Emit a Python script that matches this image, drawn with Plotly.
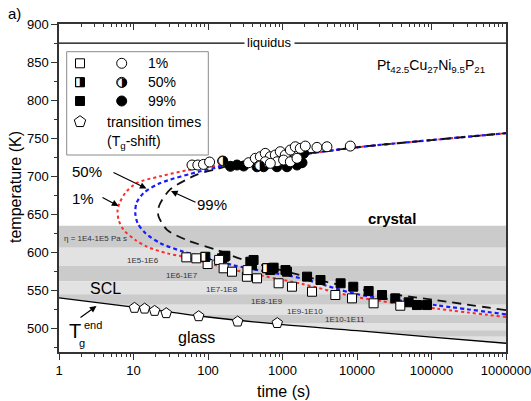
import plotly.graph_objects as go

FONT = "Arial, Liberation Sans, sans-serif"
SYM = "DejaVu Sans"

# ---------------- data ----------------
# TTT curves: time (s), temperature (K); lower branch -> nose -> upper branch
red_t = [1e6, 117500, 1e4, 1738, 219, 46.8, 28.2, 15.1, 10.6, 7.36, 6.31, 6.12, 6.5, 7.76, 11.0, 22.9, 52.2, 100, 200, 1000, 1e4, 1e5, 1e6]
red_T = [515, 526, 541, 559, 577, 594.2, 598.7, 607.4, 616.2, 629.5, 642.7, 655.9, 664.7, 678, 691.1, 699.9, 707.8, 712, 716, 725, 738, 747.5, 756.5]
blue_t = [1e6, 117500, 1e4, 1738, 219, 78.9, 46.8, 22.9, 14.5, 11.35, 10.57, 10.96, 13.7, 22.9, 78.9, 126, 200, 1000, 1e4, 1e5, 1e6]
blue_T = [518.5, 530.4, 545, 566, 583, 595, 600.8, 612, 625, 638.3, 651.5, 664.7, 678, 691, 706.5, 711, 715.5, 725, 738, 747.5, 756.5]
black_t = [1e6, 117500, 1e4, 1738, 302, 132, 52.2, 28.2, 21.7, 21.4, 22.9, 30.9, 70.8, 126, 200, 1000, 1e4, 1e5, 1e6]
black_T = [524, 537, 552, 570, 590, 603, 616, 629.5, 647, 656, 664.7, 682.3, 702, 709, 714, 725, 738, 747.5, 756.5]

# glass transition (Tg end) line
tg_t = [1, 10, 100, 1000, 1e4, 1e5, 1e6]
tg_T = [540, 528, 515, 505, 497, 488.5, 480.5]
# transition times (Tg-shift), pentagons
tr_t = [10.3, 14.1, 19.2, 27.5, 75, 250, 850]
tr_T = [527, 526, 523, 520, 516, 509, 507]

liquidus_T = 875

# crystallization onset on heating (circles) and cooling (squares)
c1_t = [61, 73, 87, 105, 351, 432, 504, 587, 686, 800, 933, 1089, 1274, 1486, 1734, 2023, 843, 1035, 1274, 1567, 587, 686, 2900, 3950, 8130]
c1_T = [714.7, 714.7, 715.5, 718.6, 717.7, 723.5, 725.6, 730, 725.6, 727.8, 732.2, 727.8, 734.4, 738.7, 736.6, 739.6, 719, 721.2, 719, 723.5, 719, 716.9, 737.9, 738.7, 739.6]
c50_t = [157, 490]
c50_T = [720, 714]
c99_t = [245, 301, 200, 455, 558, 843, 1148, 1567, 1828, 1923, 504]
c99_T = [714.7, 713.4, 713, 712.4, 712.4, 712.4, 712.4, 714.7, 717.7, 730, 716.9]

s1_t = [51.2, 69.7, 98.9, 141, 162, 210, 333, 339, 455, 887, 1340, 2489, 5117, 8570, 16710, 38110]
s1_T = [593.4, 592.1, 584.6, 590, 579, 574.5, 567.9, 576.6, 565.8, 559.3, 554.8, 548.2, 543.9, 539.5, 533, 529.8]
s50_t = [92, 620]
s50_T = [594.2, 579]
s99_t = [154, 165, 171, 370, 409, 389, 686, 760, 724, 1096, 1148, 2138, 3236, 6026, 8913, 14320, 21680, 32660, 49320, 63830, 87100]
s99_T = [592.1, 594.2, 595.5, 587.6, 589.9, 583, 576.7, 579.8, 579, 576.7, 574.5, 568, 563.6, 559.3, 554.8, 549.1, 543.9, 539.5, 534.3, 530.7, 530.7]

# viscosity bands (K)
band_edges = [635, 606, 582, 562, 545, 531, 518, 507, 497.5, 489, 481, 470]
band_labels = ["\u03b7 = 1E4-1E5 Pa s", "1E5-1E6", "1E6-1E7", "1E7-1E8", "1E8-1E9", "1E9-1E10", "1E10-1E11"]

x_ticks = [1, 10, 100, 1000, 10000, 100000, 1000000]
x_tick_text = ["1", "10", "100", "1000", "10000", "100000", "1000000"]
y_ticks = [500, 550, 600, 650, 700, 750, 800, 850, 900]

# ---------------- layout helpers ----------------
W, H = 531, 401
X0, X1, Y0, Y1 = 59, 506, 24, 352


def P(px, py):
    return (px - X0) / (X1 - X0), (Y1 - py) / (Y1 - Y0)


fig = go.Figure()
AX = "#333333"

# bands as shapes
dark, light = "#cbcbcb", "#e2e2e2"
shapes = []
for i in range(len(band_edges) - 1):
    shapes.append(dict(type="rect", xref="paper", yref="y", x0=0, x1=1,
                       y0=band_edges[i + 1], y1=band_edges[i],
                       fillcolor=dark if i % 2 == 0 else light,
                       line=dict(width=0), layer="below"))

# white glass region below Tg line
fig.add_trace(go.Scatter(x=tg_t, y=tg_T, mode="lines", line=dict(color="black", width=1.3, shape="spline"),
                         fill="tozeroy", fillcolor="white", hoverinfo="skip"))
# liquidus
fig.add_trace(go.Scatter(x=[1, 1e6], y=[liquidus_T, liquidus_T], mode="lines",
                         line=dict(color="black", width=1.2)))

# TTT curves
fig.add_trace(go.Scatter(x=red_t, y=red_T, mode="lines",
                         line=dict(color="#ff2a2a", width=2, dash="dot", shape="spline", smoothing=0.8)))
fig.add_trace(go.Scatter(x=blue_t, y=blue_T, mode="lines",
                         line=dict(color="#1a1aff", width=2.2, dash="4px,3px", shape="spline", smoothing=0.8)))
fig.add_trace(go.Scatter(x=black_t, y=black_T, mode="lines",
                         line=dict(color="#111111", width=1.8, dash="9px,6px", shape="spline", smoothing=0.8)))

mk_line = dict(color="black", width=1)
# filled 99%
fig.add_trace(go.Scatter(x=c99_t, y=c99_T, mode="markers",
                         marker=dict(symbol="circle", size=10, color="black", line=mk_line)))
fig.add_trace(go.Scatter(x=s99_t, y=s99_T, mode="markers",
                         marker=dict(symbol="square", size=9, color="black", line=mk_line)))
# open 1%
fig.add_trace(go.Scatter(x=c1_t, y=c1_T, mode="markers",
                         marker=dict(symbol="circle", size=10, color="white", line=mk_line)))
fig.add_trace(go.Scatter(x=s1_t, y=s1_T, mode="markers",
                         marker=dict(symbol="square", size=9, color="white", line=mk_line)))
# half 50%
fig.add_trace(go.Scatter(x=c50_t, y=c50_T, mode="markers+text", text=["\u25d1"] * len(c50_t),
                         textposition="middle center",
                         textfont=dict(family=SYM, size=13, color="black"),
                         marker=dict(symbol="circle", size=10, color="white", line=mk_line)))
fig.add_trace(go.Scatter(x=s50_t, y=s50_T, mode="markers+text", text=["\u25e8"] * len(s50_t),
                         textposition="middle center",
                         textfont=dict(family=SYM, size=12, color="black"),
                         marker=dict(symbol="square", size=9, color="white", line=mk_line)))
# transition pentagons
fig.add_trace(go.Scatter(x=tr_t, y=tr_T, mode="markers",
                         marker=dict(symbol="pentagon", size=11, color="white", line=mk_line)))

# dummy trace for top axis
fig.add_trace(go.Scatter(x=[1, 1e6], y=[469, 469], xaxis="x2", mode="lines",
                         line=dict(width=0), hoverinfo="skip"))

# ---------- legend (drawn inside plot on overlay axes) ----------
lg_rows = [63.3, 82.3, 101, 121.7]
lx_sq, lx_ci = 80, 121.7
for (px, py, sym, col, sz) in [
    (lx_sq, lg_rows[0], "square", "white", 9),
    (lx_ci, lg_rows[0], "circle", "white", 10),
    (lx_sq, lg_rows[1], "square", "white", 9),
    (lx_ci, lg_rows[1], "circle", "white", 10),
    (lx_sq, lg_rows[2], "square", "black", 9),
    (lx_ci, lg_rows[2], "circle", "black", 10),
    (lx_sq, lg_rows[3], "pentagon", "white", 12),
]:
    x, y = P(px, py)
    fig.add_trace(go.Scatter(x=[x], y=[y], xaxis="x3", yaxis="y3", mode="markers",
                             marker=dict(symbol=sym, size=sz, color=col, line=mk_line)))
for (px, py, glyph, sz) in [(lx_sq, lg_rows[1], "\u25e8", 12), (lx_ci, lg_rows[1], "\u25d1", 13)]:
    x, y = P(px, py)
    fig.add_trace(go.Scatter(x=[x], y=[y], xaxis="x3", yaxis="y3", mode="text", text=[glyph],
                             textposition="middle center",
                             textfont=dict(family=SYM, size=sz, color="black")))

x0, y0 = P(66.7, 51.7)
x1, y1 = P(208.3, 155)
shapes.append(dict(type="rect", xref="paper", yref="paper", x0=x0, x1=x1, y0=y1, y1=y0,
                   line=dict(color="#8a8a8a", width=1), fillcolor="rgba(0,0,0,0)", layer="above"))

annotations = []


def ann(px, py, text, size=14, xanchor="center", color="black", **kw):
    x, y = P(px, py)
    d = dict(x=x, y=y, xref="paper", yref="paper", text=text, showarrow=False,
             xanchor=xanchor, yanchor="middle", font=dict(family=FONT, size=size, color=color))
    d.update(kw)
    annotations.append(d)


def arrow(tail, head):
    x, y = P(*head)
    annotations.append(dict(x=x, y=y, xref="paper", yref="paper", text="", showarrow=True,
                            ax=tail[0] - head[0], ay=tail[1] - head[1], arrowhead=2,
                            arrowsize=1.1, arrowwidth=1.2, arrowcolor="black"))


ann(146, lg_rows[0], "1%", 14, "left")
ann(146, lg_rows[1], "50%", 14, "left")
ann(146, lg_rows[2], "99%", 14, "left")
ann(105, lg_rows[3], "transition times", 14, "left")
ann(105, 141.7, "(T<sub>g</sub>-shift)", 14, "left")

ann(269, 42.7, "liquidus", 13, bgcolor="white", borderpad=2)
ann(375, 66, "Pt<sub>42.5</sub>Cu<sub>27</sub>Ni<sub>9.5</sub>P<sub>21</sub>", 14, "left")
ann(392, 218, "<b>crystal</b>", 15)
ann(105, 288, "SCL", 16)
ann(196, 337.5, "glass", 16)
ann(75, 331, "T", 20)
ann(82, 343, "g", 11)
ann(93, 325, "end", 11)
ann(87, 171.5, "50%", 15)
ann(83, 198.5, "1%", 15)
ann(212, 205, "99%", 15)
ann(14, 14, "a)", 15)

# axis titles
ann(283, 391, "time (s)", 16)
ann(15, 187, "temperature (K)", 16, textangle=-90)

arrow((112, 171.7), (146.5, 188.5))
arrow((101, 196.7), (118.5, 206))
arrow((197, 203), (171, 191))
arrow((79, 318.5), (96.5, 306))

# band labels
for (px, py), lab in zip([(95, 238.3), (143.3, 260), (182, 275), (221.7, 289), (266.7, 301), (305, 311), (345, 319.3)],
                         band_labels):
    ann(px, py, lab, 8, color="#333333")

fig.update_layout(
    width=W, height=H,
    margin=dict(l=X0, r=W - X1, t=Y0, b=H - Y1, pad=0),
    paper_bgcolor="white", plot_bgcolor="white",
    showlegend=False,
    hovermode=False,
    shapes=shapes,
    annotations=annotations,
    xaxis=dict(type="log", range=[0, 6], tickvals=x_ticks, ticktext=x_tick_text, automargin=False,
               ticklabeloverflow="allow",
               ticks="outside", ticklen=6, tickwidth=1.2, tickcolor=AX,
               minor=dict(ticks="outside", ticklen=3, tickwidth=1, tickcolor=AX, dtick="D1", showgrid=False),
               showline=True, linecolor=AX, linewidth=1.5, mirror=False, showgrid=False, zeroline=False,
               tickfont=dict(family=FONT, size=13, color="black")),
    xaxis2=dict(type="log", range=[0, 6], overlaying="x", side="top", tickvals=x_ticks, automargin=False,
                ticks="inside", ticklen=6, tickwidth=1.2, tickcolor=AX, showticklabels=False,
                minor=dict(ticks="inside", ticklen=3, tickwidth=1, tickcolor=AX, dtick="D1", showgrid=False),
                showline=True, linecolor=AX, linewidth=1.5, showgrid=False, zeroline=False),
    yaxis=dict(range=[469, 900], tickvals=y_ticks, ticks="outside", ticklen=6, tickwidth=1.2, tickcolor=AX,
               automargin=False,
               minor=dict(ticks="outside", ticklen=3, tickwidth=1, tickcolor=AX, dtick=25, tick0=0, showgrid=False),
               showline=True, linecolor=AX, linewidth=1.5, mirror=True, showgrid=False, zeroline=False,
               tickfont=dict(family=FONT, size=13, color="black")),
    xaxis3=dict(range=[0, 1], overlaying="x", visible=False),
    yaxis3=dict(range=[0, 1], overlaying="y", visible=False),
)

fig.write_html("out.html", config={"displayModeBar": False},
               post_script="document.body.style.margin='0px';")
